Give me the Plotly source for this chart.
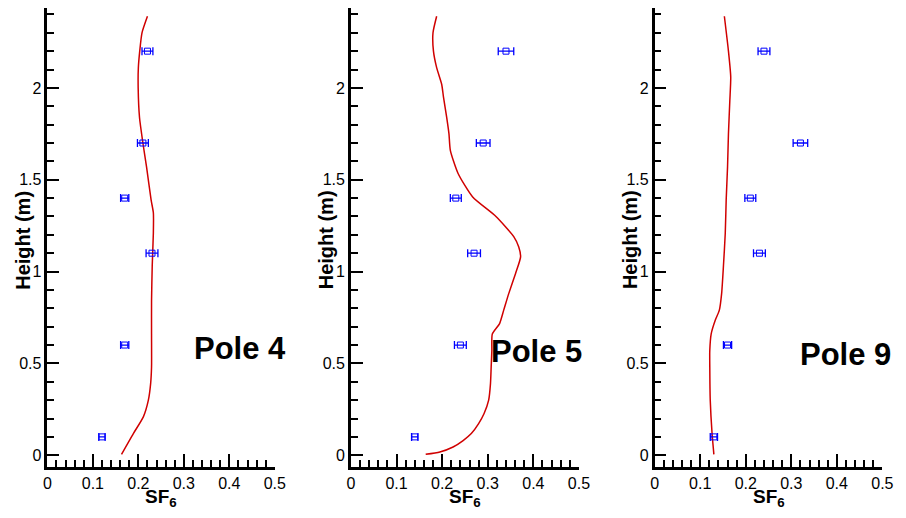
import plotly.graph_objects as go

# ---- data ----
heights = [0.1, 0.6, 1.1, 1.4, 1.7, 2.2]

pole4_exp = [0.12, 0.17, 0.23, 0.17, 0.21, 0.22]
pole4_err = [0.007, 0.009, 0.013, 0.009, 0.012, 0.012]
pole5_exp = [0.14, 0.24, 0.27, 0.23, 0.29, 0.34]
pole5_err = [0.007, 0.013, 0.014, 0.012, 0.015, 0.017]
pole9_exp = [0.13, 0.16, 0.23, 0.21, 0.32, 0.24]
pole9_err = [0.008, 0.009, 0.013, 0.012, 0.016, 0.013]

pole4_h = [0.005, 0.118, 0.209, 0.30, 0.39, 0.48, 0.66, 0.84, 1.03, 1.21, 1.32,
           1.39, 1.57, 1.70, 1.84, 2.0, 2.11, 2.20, 2.30, 2.39]
pole4_sim = [0.163, 0.189, 0.211, 0.222, 0.227, 0.229, 0.229, 0.229, 0.2305, 0.233, 0.233,
             0.228, 0.218, 0.210, 0.2025, 0.1996, 0.200, 0.203, 0.208, 0.220]

pole5_h = [0.005, 0.018, 0.045, 0.08, 0.118, 0.172, 0.227, 0.30, 0.39, 0.48, 0.57, 0.66,
           0.717, 0.79, 0.88, 0.99, 1.08, 1.134, 1.19, 1.30, 1.406, 1.534, 1.66, 1.75,
           1.84, 1.95, 2.02, 2.11, 2.20, 2.30, 2.39]
pole5_sim = [0.164, 0.195, 0.224, 0.246, 0.264, 0.280, 0.292, 0.302, 0.306, 0.3075, 0.309, 0.310,
             0.326, 0.335, 0.346, 0.361, 0.372, 0.368, 0.357, 0.318, 0.267, 0.235, 0.218, 0.215,
             0.210, 0.203, 0.199, 0.188, 0.181, 0.180, 0.188]

pole9_h = [0.005, 0.118, 0.30, 0.48, 0.57, 0.66, 0.735, 0.79, 0.88, 1.03, 1.21, 1.39,
           1.57, 1.75, 1.93, 2.06, 2.20, 2.39]
pole9_sim = [0.130, 0.126, 0.122, 0.121, 0.121, 0.124, 0.133, 0.142, 0.147, 0.151, 0.155, 0.157,
             0.160, 0.162, 0.165, 0.167, 0.162, 0.153]

poles = ["Pole 4", "Pole 5", "Pole 9"]
x_ticks = [0, 0.1, 0.2, 0.3, 0.4, 0.5]
y_ticks = [0, 0.5, 1, 1.5, 2]

# page has an 8px body margin: figure occupies (8,8)-(898,510) of the 906x518 window
OFF = 8
W, H = 906 - 2 * OFF, 518 - 2 * OFF


def px(xp):
    return (xp - OFF) / W


def py(yp):
    return min(1.0, max(0.0, 1 - (yp - OFF) / H))


x_domains_px = [(44, 275.3), (352.7, 584.7), (661.7, 893.3)]
y_domain_px = (8, 467)
pole_label_px = [(190.7, 348.5), (492.7, 351), (807, 354)]

exp_sets = [(pole4_exp, pole4_err), (pole5_exp, pole5_err), (pole9_exp, pole9_err)]
sim_sets = [(pole4_h, pole4_sim), (pole5_h, pole5_sim), (pole9_h, pole9_sim)]

fig = go.Figure()
FONT = "Liberation Sans, Arial, sans-serif"
annotations = []

for i in range(3):
    sfx = "" if i == 0 else str(i + 1)
    hs, vs = sim_sets[i]
    fig.add_trace(go.Scatter(
        x=vs, y=hs, mode="lines", line=dict(color="#d00000", width=1.5, shape="spline", smoothing=0.6),
        xaxis="x" + sfx, yaxis="y" + sfx, showlegend=False, hoverinfo="skip"))
    ex, ee = exp_sets[i]
    fig.add_trace(go.Scatter(
        x=ex, y=heights, mode="markers",
        marker=dict(symbol="square-open", size=6, color="#0000ff", line=dict(width=1, color="#0000ff")),
        error_x=dict(type="data", array=ee, visible=True, color="#0000ff", thickness=1.3, width=4),
        xaxis="x" + sfx, yaxis="y" + sfx, showlegend=False))

    x0, x1 = x_domains_px[i]
    common = dict(showline=True, linecolor="black", linewidth=2.5, ticks="inside",
                  tickcolor="black", tickwidth=2, showgrid=False, zeroline=False,
                  tickfont=dict(family=FONT, size=16, color="black"))
    fig.layout["xaxis" + sfx] = dict(
        domain=[px(x0), px(x1)], range=[0, 0.5], anchor="y" + sfx,
        tickvals=x_ticks, ticktext=[("%g" % v) for v in x_ticks], ticklen=13,
        minor=dict(dtick=0.02, ticklen=7, tickwidth=1.5, tickcolor="black", ticks="inside", showgrid=False),
        **common)
    fig.layout["yaxis" + sfx] = dict(
        domain=[py(y_domain_px[1]), py(y_domain_px[0])], range=[-0.064, 2.435],
        anchor="x" + sfx, tickvals=y_ticks, ticktext=[("%g" % v) for v in y_ticks], ticklen=12,
        minor=dict(dtick=0.1, tick0=0, ticklen=7, tickwidth=1.5, tickcolor="black", ticks="inside", showgrid=False),
        **common)

    # axis titles
    annotations.append(dict(
        text="<b>SF<sub>6</sub></b>", x=px((x0 + x1) / 2), y=py(498), xref="paper", yref="paper",
        xanchor="center", yanchor="middle", showarrow=False,
        font=dict(family=FONT, size=19, color="black")))
    annotations.append(dict(
        text="<b>Height (m)</b>", x=px(x0 - 25), y=py(240), xref="paper", yref="paper",
        xanchor="center", yanchor="middle", showarrow=False, textangle=-90,
        font=dict(family=FONT, size=20, color="black")))
    lx, ly = pole_label_px[i]
    annotations.append(dict(
        text="<b>%s</b>" % poles[i], x=px(lx), y=py(ly), xref="paper", yref="paper",
        xanchor="left", yanchor="middle", showarrow=False,
        font=dict(family=FONT, size=31, color="black")))

fig.update_layout(
    width=W, height=H, margin=dict(l=0, r=0, t=0, b=0),
    paper_bgcolor="white", plot_bgcolor="white", annotations=annotations,
    font=dict(family=FONT, color="black"))

fig.write_html("out.html")
